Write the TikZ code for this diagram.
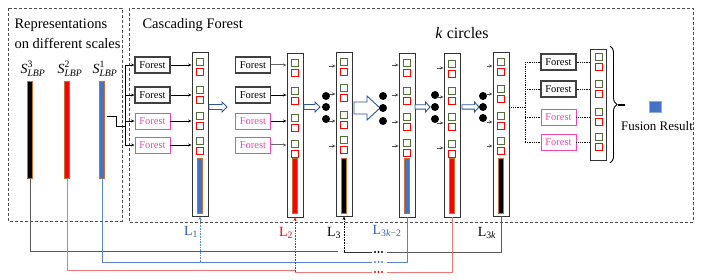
\documentclass[tikz,border=0pt]{standalone}
\usepackage{amsmath}
\usepackage{fontspec}
\setmainfont{Liberation Serif}
\usetikzlibrary{arrows.meta,decorations.pathreplacing,calc}
\definecolor{fpink}{RGB}{240,70,180}
\definecolor{sqgreen}{RGB}{84,110,56}
\definecolor{barbrown}{RGB}{197,110,50}
\definecolor{barblue}{RGB}{68,114,196}
\definecolor{arrblue}{RGB}{47,85,151}
\definecolor{lineblue}{RGB}{90,130,210}
\definecolor{linered}{RGB}{240,120,120}
\definecolor{labblue}{RGB}{50,90,180}
\newcommand\mylayer[5]{%
  \node[layerbox, minimum height={#4-#3}] (#1) at (#2,{(#3+#4)/2}) {};
  \foreach \gy [count=\i] in {#5} {
    \node[gsq] (#1g\i) at (#2,\gy) {};
    \node[rsq] (#1r\i) at (#2,\gy+9.5) {};
  }%
}
\newcommand\mybar[5]{% name, x, top, bottom, colour
  \node[barnode, fill=#5, minimum height={#4-#3}] (#1) at (#2,{(#3+#4)/2}) {};
}
\newcommand\hollowarr[7]{% x1 x2 y bodyhalf headhalf headlen name
  \draw[harrow] (#1,#3-#4) -- (#2-#6,#3-#4) -- (#2-#6,#3-#5) -- (#2,#3)
     -- (#2-#6,#3+#5) -- (#2-#6,#3+#4) -- (#1,#3+#4) -- cycle;
  \coordinate (#7) at (#2,#3);
}
\newcommand\slbp[1]{$\textit{S}^{\text{#1}}_{\textit{LBP}}$}
\begin{document}
\begin{tikzpicture}[x=1pt,y=-1pt,
  dbox/.style={draw=black!70, dash pattern=on 3pt off 2pt, line width=0.9pt},
  forestk/.style={draw=black!75, line width=1.1pt, minimum width=35pt, minimum height=16pt, inner sep=0pt, font=\fontsize{10.5}{12}\selectfont},
  forestp/.style={draw=fpink, line width=0.9pt, text=fpink, minimum width=35pt, minimum height=16pt, inner sep=0pt, font=\fontsize{10.5}{12}\selectfont},
  layerbox/.style={draw=black!80, line width=0.9pt, minimum width=16pt, inner sep=0pt},
  gsq/.style={draw=sqgreen, line width=0.8pt, minimum size=7pt, inner sep=0pt},
  rsq/.style={draw=red, line width=0.8pt, minimum size=7pt, inner sep=0pt},
  barnode/.style={draw=barbrown, line width=0.7pt, minimum width=5pt, inner sep=0pt},
  bdot/.style={circle, fill=black, minimum size=8pt, inner sep=0pt},
  sdot/.style={circle, minimum size=2.4pt, inner sep=0pt},
  arr/.style={-{Stealth[length=3.5pt,width=3pt]}, line width=0.6pt},
  harrow/.style={draw=arrblue, fill=white, line width=0.9pt},
  big/.style={font=\fontsize{14.5}{16}\selectfont},
  lab/.style={font=\fontsize{14}{16}\selectfont},
  slab/.style={font=\fontsize{14}{16}\selectfont, inner sep=0pt},
]
\useasboundingbox (0,0) rectangle (708,280);

% dashed frames
\draw[dbox] (8,8) rectangle (122,221);
\draw[dbox] (129,8) rectangle (693,222);

% titles
\node[big, anchor=west] (t1) at (11,25) {Representations};
\node[big, anchor=west] (t2) at (11,43) {on different scales};
\node[big, anchor=west] (t3) at (139,25) {Cascading Forest};
\node[font=\fontsize{16}{18}\selectfont] (t4) at (462,33) {\textit{k} circles};

% scale representations
\node[slab] (s3) at (33,69) {\slbp{3}};
\node[slab] (s2) at (70,69) {\slbp{2}};
\node[slab] (s1) at (105,69) {\slbp{1}};
\mybar{S3bar}{30}{81}{178}{black}
\mybar{S2bar}{67}{81}{178}{red}
\mybar{S1bar}{102}{81}{178}{barblue}

% first forests
\node[forestk] (f1a) at (152.5,65) {Forest};
\node[forestk] (f1b) at (152.5,95) {Forest};
\node[forestp] (f1c) at (152.5,121) {Forest};
\node[forestp] (f1d) at (152.5,145) {Forest};
\coordinate (s1out) at (107,116);
\coordinate (trunk) at (125,100);
\draw[line width=0.6pt] (s1out) -- (116,116) -- (116,126) -- (trunk |- 0,126);
\draw[line width=0.6pt] (trunk |- f1a.west) -- (trunk |- f1d.west);
\foreach \f in {f1a,f1b,f1c,f1d} \draw[arr] (trunk |- \f.west) -- (\f.west);

% layer 1
\mylayer{L1}{200}{52}{216}{62,90,116,141}
\mybar{L1bar}{200}{158}{213}{barblue}
\foreach \f in {f1a,f1b,f1c,f1d} \draw[arr] (\f.east) -- (\f.east -| L1.west);
\hollowarr{209}{227}{107}{2.5}{5}{5}{ha1}

% second forests
\node[forestk] (f2a) at (253,65) {Forest};
\node[forestk] (f2b) at (253,95) {Forest};
\node[forestp] (f2c) at (253,121) {Forest};
\node[forestp] (f2d) at (253,145) {Forest};
\mylayer{L2}{295}{53}{217}{63,91,118,144}
\mybar{L2bar}{295}{158}{213}{red}
\draw[arr, black!60, line width=1pt] (f2a.east) -- (f2a.east -| L2.west);
\draw[arr] (f2b.east) -- (f2b.east -| L2.west);
\draw[arr] (f2c.east) -- (f2c.east -| L2.west);
\draw[arr, black!60, line width=1pt] (f2d.east) -- (f2d.east -| L2.west);
\hollowarr{304}{320}{107}{2.5}{5}{5}{ha2}

% layer 3
\node[bdot] (c3a) at (326,96) {};
\node[bdot] (c3b) at (326,107) {};
\node[bdot] (c3c) at (326,119) {};
\mylayer{L3}{344}{52}{216}{62,88,115,140}
\mybar{L3bar}{344}{158}{213}{black}
\foreach \yy in {66,94,121,146} \draw[arr, black!70] ([xshift=-7pt]L3.west |- 0,\yy) -- (L3.west |- 0,\yy);
\hollowarr{354}{380}{108}{6}{12}{13}{ha3}

% layer 3k-2
\node[bdot] (c4a) at (383,96) {};
\node[bdot] (c4b) at (383,108) {};
\node[bdot] (c4c) at (383,121) {};
\mylayer{L4}{407}{53}{217}{63,91,117,143}
\mybar{L4bar}{407}{158}{213}{barblue}
\foreach \yy in {65,95,122,146} \draw[arr, black!70] ([xshift=-7pt]L4.west |- 0,\yy) -- (L4.west |- 0,\yy);
\hollowarr{415}{430}{107}{2.2}{5}{4.5}{ha4}

% layer 3k-1
\node[bdot] (c5a) at (435,95) {};
\node[bdot] (c5b) at (435,107) {};
\node[bdot] (c5c) at (435,119) {};
\mylayer{L5}{452}{53}{217}{64,91,117,144}
\mybar{L5bar}{452}{158}{213}{red}
\foreach \yy in {68,97,123,148} \draw[arr, black!70] ([xshift=-7pt]L5.west |- 0,\yy) -- (L5.west |- 0,\yy);
\hollowarr{462}{479}{107}{2.2}{5}{4.5}{ha5}

% layer 3k
\node[bdot] (c6a) at (483,96) {};
\node[bdot] (c6b) at (483,107) {};
\node[bdot] (c6c) at (483,118) {};
\mylayer{L6}{501}{52}{216}{62,89,116,141}
\mybar{L6bar}{501}{158}{213}{black}
\foreach \yy in {66,94,122,146} \draw[arr, black!70] ([xshift=-6pt]L6.west |- 0,\yy) -- (L6.west |- 0,\yy);

% last forests
\node[forestk] (f3a) at (558.5,62) {Forest};
\node[forestk] (f3b) at (558.5,89) {Forest};
\node[forestp] (f3c) at (558.5,117) {Forest};
\node[forestp] (f3d) at (558.5,142) {Forest};
\coordinate (trunk2) at (525,107);
\draw[densely dotted, line width=0.8pt] (L6.east |- trunk2) -- (trunk2);
\draw[densely dotted, line width=0.8pt] (trunk2 |- f3a.west) -- (trunk2 |- f3d.west);
\foreach \f in {f3a,f3b,f3c,f3d} \draw[densely dotted, line width=0.8pt] (trunk2 |- \f.west) -- (\f.west);
\mylayer{L7}{598.5}{49}{160}{57,84,112,137}
\foreach \f in {f3a,f3b,f3c,f3d} \draw[densely dotted, line width=0.8pt] (\f.east) -- (\f.east -| L7.west);

% fusion
\draw[decorate, decoration={brace, amplitude=7pt}, line width=0.9pt] (610,46) -- (610,163);
\coordinate (btip) at (618,105);
\draw[line width=1.5pt] (btip) -- ++(7,0);
\node[draw=barblue!60, fill=barblue, minimum width=12pt, minimum height=11pt, inner sep=0pt] (fus) at (655,106.5) {};
\node[font=\fontsize{13}{15}\selectfont] (fustext) at (657,126) {Fusion Result};

% layer labels
\node[lab, text=labblue] (lab1) at (191,232) {L\textsubscript{1}};
\node[lab, text=red] (lab2) at (286,233) {L\textsubscript{2}};
\node[lab] (lab3) at (334,233) {L\textsubscript{3}};
\node[lab, text=labblue] (lab4) at (387,231) {L\textsubscript{3\textit{k}−2}};
\node[lab] (lab6) at (487,233) {L\textsubscript{3\textit{k}}};

% bottom connectors: black
\coordinate (kd) at (372,252);
\coordinate (ke) at (387,252);
\draw[black!65, line width=0.9pt] (S3bar.south) -- (S3bar.south |- 0,251) -- (338,251);
\draw[densely dotted, arr] (L3.south |- kd) -- (L3.south);
\draw[black!80, line width=0.8pt] (L3.south |- kd) -- (kd);
\foreach \xx in {375,378.5,382} \node[sdot, fill=black] at (\xx,252) {};
\draw[black!65, line width=0.9pt] (ke) -- (L6.south |- ke) -- (L6.south);

% blue
\coordinate (bd) at (372,262);
\coordinate (be) at (387,262);
\draw[lineblue, line width=0.9pt] (S1bar.south) -- (S1bar.south |- bd) -- (bd);
\draw[lineblue, densely dotted, arr] (L1.south |- bd) -- (L1.south);
\foreach \xx in {375,378.5,382} \node[sdot, fill=lineblue] at (\xx,262) {};
\draw[lineblue, line width=0.9pt] (be) -- (L4.south |- be) -- (L4.south);

% red
\coordinate (rd) at (372,272);
\coordinate (re) at (387,272);
\draw[linered, line width=0.9pt] (S2bar.south) -- (S2bar.south |- 0,270) -- (L2.south |- 0,270);
\draw[red, densely dotted, arr] (L2.south |- rd) -- (L2.south);
\draw[linered, line width=0.9pt] (L2.south |- rd) -- (rd);
\foreach \xx in {375,378.5,382} \node[sdot, fill=red] at (\xx,272) {};
\draw[linered, line width=0.9pt] (re) -- (L5.south |- re) -- (L5.south);
\end{tikzpicture}
\end{document}
